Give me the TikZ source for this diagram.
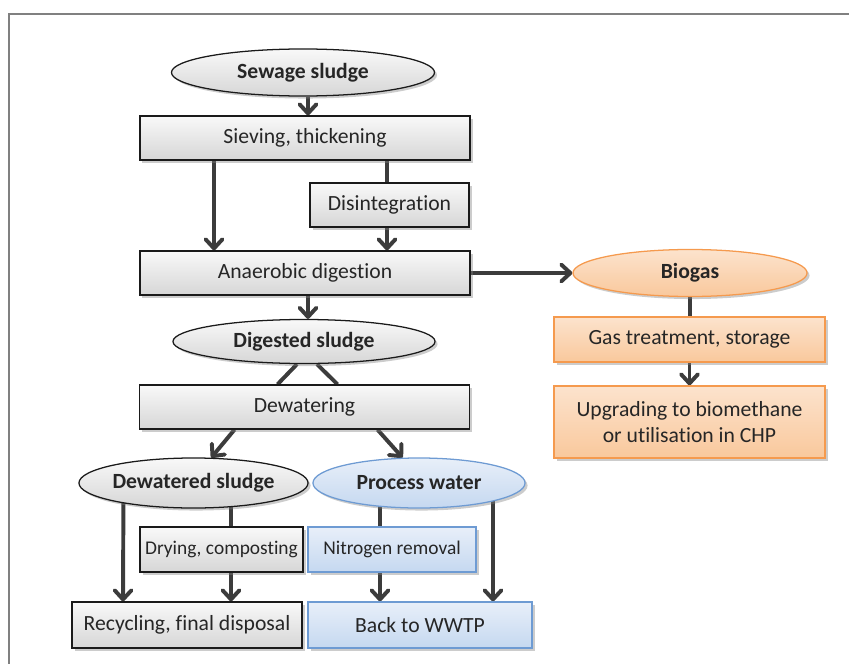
\documentclass[tikz,border=0pt]{standalone}
\usepackage{fontspec}
\setmainfont[Ligatures={NoCommon}]{Carlito}
\usetikzlibrary{calc,shapes.geometric,shadows,arrows.meta,backgrounds}
\definecolor{boxline}{HTML}{1A1A1A}
\definecolor{arrowgray}{HTML}{3C3C3C}
\definecolor{orangeline}{HTML}{F59A4E}
\definecolor{orangetop}{HTML}{FCE3CD}
\definecolor{orangebot}{HTML}{F9C89C}
\definecolor{blueline}{HTML}{6E9BD3}
\definecolor{bluetop}{HTML}{E8EFF9}
\definecolor{bluebot}{HTML}{C5D8F0}
\tikzset{
  shade/.style={drop shadow={opacity=0.4,shadow xshift=1.8pt,shadow yshift=-1.8pt}},
  graybox/.style={shade,rectangle,draw=boxline,line width=0.9pt,top color=gray!5,bottom color=gray!32,
    inner sep=0pt,text=black!85,font=\fontsize{15.4}{18.5}\selectfont,align=center},
  smallbox/.style={font=\fontsize{13.8}{16.5}\selectfont},
  grayell/.style={graybox,ellipse,font=\fontsize{15.4}{18.5}\selectfont\bfseries},
  orangebox/.style={graybox,draw=orangeline,top color=orangetop,bottom color=orangebot},
  orangeell/.style={grayell,draw=orangeline,top color=orangetop,bottom color=orangebot},
  bluebox/.style={graybox,draw=blueline,top color=bluetop,bottom color=bluebot},
  blueell/.style={grayell,draw=blueline,top color=bluetop,bottom color=bluebot},
  arr/.style={draw=arrowgray,line width=2.8pt,-{Straight Barb[round,length=6.5pt,width=12pt]}},
  link/.style={draw=arrowgray,line width=2.8pt}
}
\begin{document}
\begin{tikzpicture}[x=0.025cm,y=-0.025cm]
  %%%%% START %%%%%
  \useasboundingbox (0,0) rectangle (849,664);
  \draw[gray,line width=1pt] (849,14) -- (9,14) -- (9,664);

  % sludge line
  \node[grayell,minimum width=6.575cm,minimum height=1.175cm] (sewage) at (303,72.5) {Sewage sludge};
  \node[graybox,minimum width=8.25cm,minimum height=1.1cm] (sieve) at (305,138) {Sieving, thickening};
  \node[graybox,minimum width=3.975cm,minimum height=1.1cm] (disint) at (389.5,205) {Disintegration};
  \node[graybox,minimum width=8.25cm,minimum height=1.1cm] (anaer) at (305,273) {Anaerobic digestion};
  \node[grayell,minimum width=6.55cm,minimum height=1.1cm] (digs) at (304,341.5) {Digested sludge};
  \node[graybox,minimum width=8.25cm,minimum height=1.1cm] (dewat) at (304.5,407) {Dewatering};
  \node[grayell,minimum width=5.075cm,minimum height=1.25cm] (dewsl) at (193.5,483) {Dewatered sludge};
  \node[graybox,smallbox,minimum width=4.075cm,minimum height=1.125cm] (dry) at (221.5,549.5) {Drying, composting};
  \node[graybox,minimum width=5.75cm,minimum height=1.15cm] (recyc) at (187,625) {Recycling, final disposal};

  % water line
  \node[blueell,minimum width=5.3cm,minimum height=1.25cm] (procw) at (419,483) {Process water};
  \node[bluebox,smallbox,minimum width=4.2cm,minimum height=1.125cm] (nitro) at (392,549.5) {Nitrogen removal};
  \node[bluebox,minimum width=5.6cm,minimum height=1.15cm] (back) at (420,625) {Back to WWTP};

  % gas line
  \node[orangeell,minimum width=5.85cm,minimum height=1.175cm] (biogas) at (690,273) {Biogas};
  \node[orangebox,minimum width=6.775cm,minimum height=1.125cm] (gastr) at (689.5,339.5) {Gas treatment, storage};
  \node[orangebox,minimum width=6.775cm,minimum height=1.8cm] (upgr) at (689.5,422) {Upgrading to biomethane\\or utilisation in CHP};

  % connectors
  \begin{scope}[on background layer]
  \draw[arr] ($(sewage.south)+(5,0)$) -- ($(sieve.north)+(3,0)$);
  \draw[arr] ($(sieve.south)+(-91,0)$) -- ($(anaer.north)+(-91,0)$);
  \draw[link] ($(sieve.south)+(82,0)$) -- ($(disint.north)+(-2.5,0)$);
  \draw[arr] ($(disint.south)+(-2.5,0)$) -- ($(anaer.north)+(82,0)$);
  \draw[arr] (anaer.east) -- (biogas.west);
  \draw[link] (biogas.south) -- (gastr.north -| biogas.south);
  \draw[arr] (gastr.south) -- (upgr.north);
  \draw[arr] ($(anaer.south)+(3,0)$) -- ($(digs.north)+(4,0)$);
  \draw[link] ($(digs.south)+(-7,0)$) -- ($(dewat.north)+(-27,0)$);
  \draw[link] ($(digs.south)+(13,0)$) -- ($(dewat.north)+(33,0)$);
  \draw[arr] ($(dewat.south)+(-70,0)$) -- (dewsl.55);
  \draw[arr] ($(dewat.south)+(73,0)$) -- (procw.123);
  \draw[arr] ($(dewsl.center)+(-70,0)$) -- ($(recyc.north)+(-64,0)$);
  \draw[link] ($(dewsl.center)+(37.5,0)$) -- ($(dry.north)+(9.5,0)$);
  \draw[arr] ($(dry.south)+(9.5,0)$) -- ($(recyc.north)+(44,0)$);
  \draw[link] ($(procw.center)+(-39,0)$) -- ($(nitro.north)+(-12,0)$);
  \draw[arr] ($(nitro.south)+(-12,0)$) -- ($(back.north)+(-40,0)$);
  \draw[arr] ($(procw.center)+(74,0)$) -- ($(back.north)+(73,0)$);
  \end{scope}
  %%%%% END %%%%%
\end{tikzpicture}
\end{document}
